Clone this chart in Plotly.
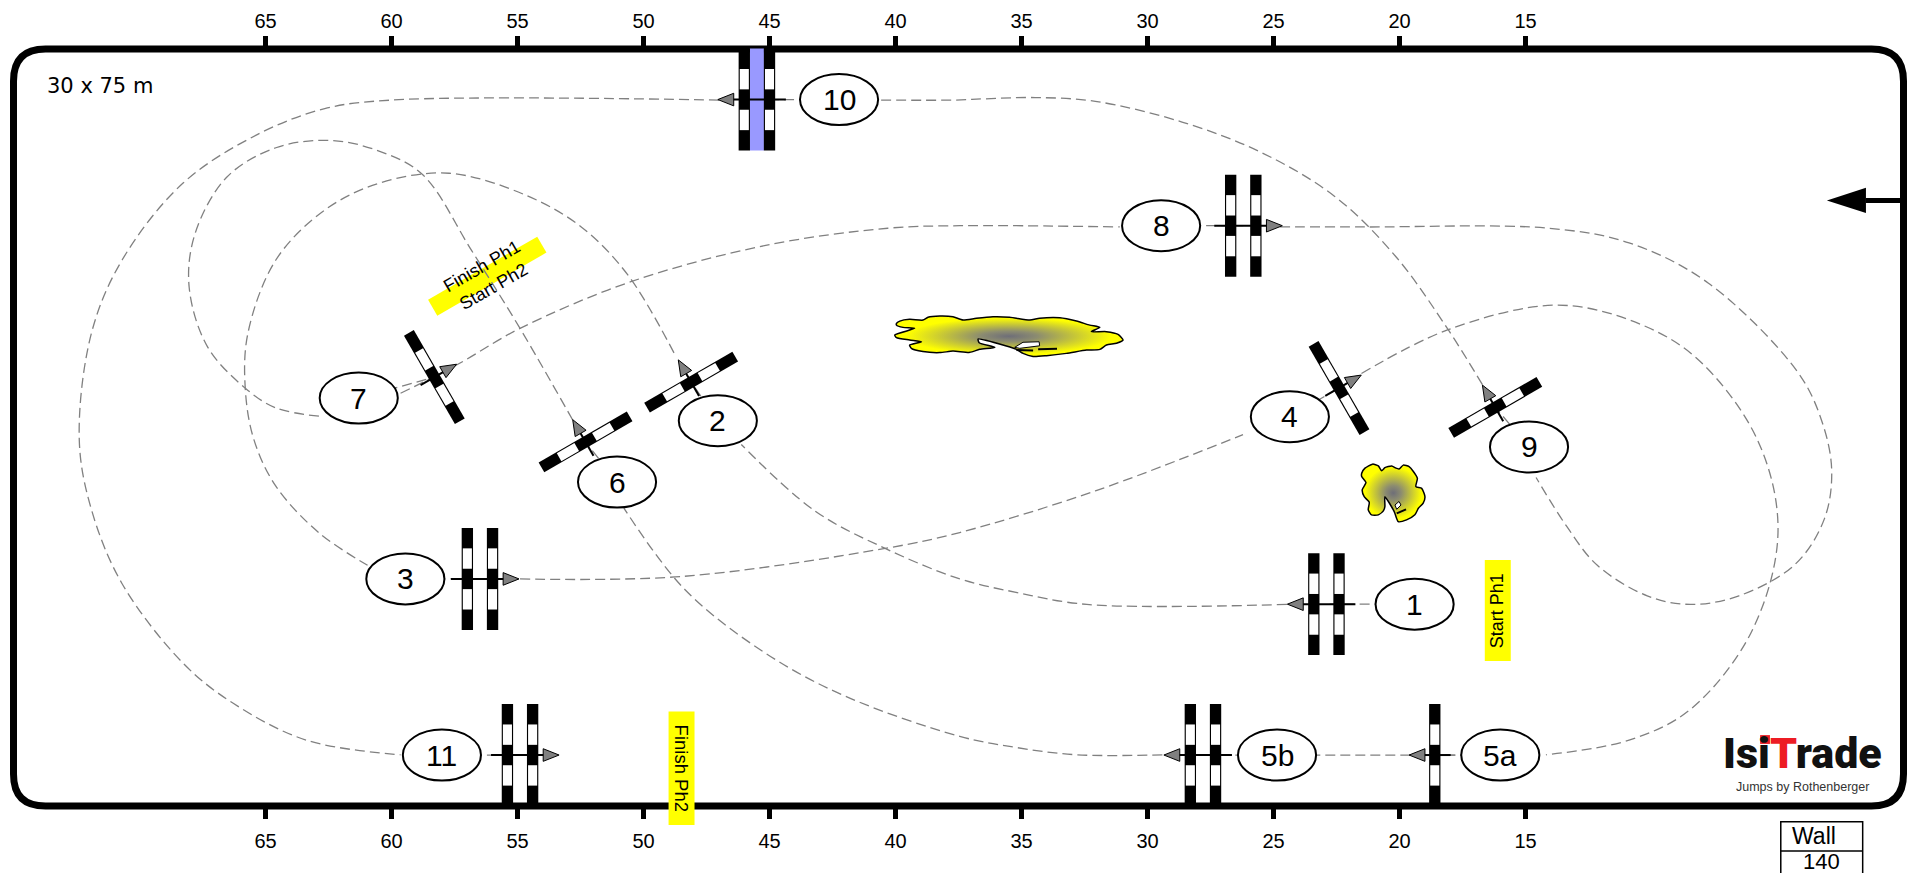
import math
import plotly.graph_objects as go

# ---- Arena (metres) ----
ARENA_W = 75
ARENA_H = 30
CORNER = 1.27
ARENA_LABEL = "30 x 75 m"
TICK_M = [65, 60, 55, 50, 45, 40, 35, 30, 25, 20, 15]

# ---- Jumps ----
JUMP_NAMES = ["1", "2", "3", "4", "5a", "5b", "6", "7", "8", "9", "10", "11"]
JUMP_X = [22.9, 48.11, 56.49, 22.4, 18.6, 27.8, 52.3, 58.3, 26.2, 16.2, 45.5, 54.9]
JUMP_Y = [8.0, 16.8, 9.0, 16.57, 2.02, 2.02, 14.43, 17.0, 23.0, 15.8, 28.0, 2.02]
JUMP_HEADING = [180, 120, 0, 30, 180, 180, 120, 30, 0, 120, 180, 0]
JUMP_POLES = [2, 1, 2, 1, 1, 2, 1, 1, 2, 1, 2, 2]
JUMP_WATER = [0, 0, 0, 0, 0, 0, 0, 0, 0, 0, 1, 0]
LABEL_X = [19.4, 47.05, 59.45, 24.35, 16.0, 24.86, 51.05, 61.3, 29.46, 14.86, 42.24, 58.0]
LABEL_Y = [8.0, 15.27, 9.0, 15.43, 2.02, 2.02, 12.84, 16.17, 23.0, 14.23, 28.0, 2.02]

# ---- Course line ----
ROUTE_A_X = [24.46, 32.41, 35.22, 37.45, 40.41, 43.22, 46.12]
ROUTE_A_Y = [7.99, 7.99, 8.47, 9.0, 10.21, 11.71, 14.33]
ROUTE_B_X = [48.79, 50.63, 52.47, 54.65, 57.71, 60.47, 62.65, 64.59, 65.7, 65.8, 65.46, 64.59, 62.89, 60.95]
ROUTE_B_Y = [17.96, 21.06, 22.95, 24.2, 25.08, 24.69, 23.62, 21.64, 18.73, 16.51, 14.52, 12.68, 10.84, 9.54]
ROUTE_C_X = [54.9, 48.45, 40.41, 37.45, 32.07, 26.21]
ROUTE_C_Y = [9.0, 9.1, 10.21, 10.84, 12.49, 14.72]
ROUTE_D_X = [21.51, 18.07, 13.85, 10.89, 8.28, 5.8, 4.98, 6.05, 8.47, 10.89, 14.19]
ROUTE_D_Y = [17.14, 18.88, 19.85, 19.27, 17.81, 14.52, 10.84, 6.87, 3.82, 2.61, 2.03]
ROUTE_E_X = [16.0, 29.0]
ROUTE_E_Y = [2.02, 2.02]
ROUTE_F_X = [29.41, 32.8, 35.22, 37.45, 42.01, 45.15, 48.35, 50.78]
ROUTE_F_Y = [2.03, 2.03, 2.32, 2.76, 4.36, 6.05, 8.57, 11.81]
ROUTE_G_X = [52.81, 54.9, 56.83, 58.77, 60.47, 62.41, 64.59, 66.53, 67.79, 68.03, 67.3, 65.8, 64.59, 62.79]
ROUTE_G_Y = [15.3, 18.93, 22.03, 25.03, 25.95, 26.38, 26.09, 24.93, 22.7, 20.57, 18.2, 16.56, 15.78, 15.44]
ROUTE_H_X = [59.64, 57.42, 54.9, 50.53, 45.15, 40.31, 37.45, 31.1]
ROUTE_H_Y = [16.36, 17.48, 18.93, 20.77, 22.22, 22.9, 23.0, 22.95]
ROUTE_I_X = [24.75, 21.36, 14.09, 10.89, 7.74, 4.2, 3.24, 2.85, 3.14, 4.3, 6.53, 8.47, 10.17, 12.15, 13.37, 14.58]
ROUTE_I_Y = [22.95, 22.95, 22.9, 22.32, 20.72, 17.2, 15.25, 13.31, 11.38, 9.58, 8.33, 7.99, 8.33, 9.54, 11.09, 13.02]
ROUTE_J_X = [16.71, 18.07, 20.15, 22.57, 25.48, 28.63, 32.07, 34.45, 36.43, 37.65, 40.65]
ROUTE_J_Y = [16.7, 18.88, 21.78, 24.16, 25.9, 27.11, 27.93, 28.08, 28.03, 27.98, 27.98]
ROUTE_K_X = [47.0, 59.98, 62.65, 65.31, 68.27, 70.69, 71.91, 72.39, 71.91, 70.69, 68.27, 66.28, 63.38, 59.64]
ROUTE_K_Y = [27.98, 27.98, 27.64, 26.62, 24.69, 21.64, 18.73, 14.52, 11.76, 8.81, 5.66, 4.07, 2.61, 2.03]
ROUTES = [(ROUTE_A_X, ROUTE_A_Y), (ROUTE_B_X, ROUTE_B_Y), (ROUTE_C_X, ROUTE_C_Y), (ROUTE_D_X, ROUTE_D_Y),
          (ROUTE_E_X, ROUTE_E_Y), (ROUTE_F_X, ROUTE_F_Y), (ROUTE_G_X, ROUTE_G_Y), (ROUTE_H_X, ROUTE_H_Y),
          (ROUTE_I_X, ROUTE_I_Y), (ROUTE_J_X, ROUTE_J_Y), (ROUTE_K_X, ROUTE_K_Y)]

# ---- Shrubs ----
BUSH1_X = [39.96, 39.83, 39.44, 38.91, 38.71, 38.24, 37.72, 37.32, 36.79, 36.13, 35.47, 34.67, 34.28, 33.48, 32.82, 32.29,
           31.89, 32.23, 31.63, 31.17, 30.97, 31.23, 31.63, 31.89, 32.42, 33.22, 34.01, 34.54, 34.94, 35.2, 35.6, 36.72,
           36.68, 36.06, 36.66, 37.05, 37.72, 38.24, 38.91, 39.37, 39.44, 38.97, 39.44, 39.96, 40.03, 39.24, 39.7, 39.96, 39.96]
BUSH1_Y = [19.13, 19.22, 19.29, 19.26, 19.37, 19.42, 19.39, 19.26, 19.33, 19.39, 19.37, 19.26, 19.33, 19.35, 19.22, 19.06,
           18.97, 18.8, 18.8, 18.69, 18.47, 18.34, 18.27, 18.1, 18.07, 17.94, 17.85, 17.82, 17.94, 18.1, 18.23, 18.51,
           18.36, 18.18, 18.1, 17.98, 18.03, 17.97, 18.01, 18.14, 18.27, 18.4, 18.47, 18.56, 18.67, 18.93, 18.97, 19.06, 19.13]
BUSH1_GAP_X = [35.27, 34.94, 34.3, 34.28, 35.07, 35.27]
BUSH1_GAP_Y = [18.18, 18.38, 18.4, 18.24, 18.14, 18.18]
BUSH1_MARK_X = [[35.2, 34.54], [34.34, 33.59]]
BUSH1_MARK_Y = [[18.07, 18.05], [18.1, 18.12]]
BUSH2_X = [21.5, 21.37, 21.07, 20.84, 20.71, 20.58, 20.31, 20.14, 20.02, 19.85, 19.62, 19.45, 19.29, 19.35, 19.12, 18.99,
           19.06, 19.25, 19.39, 19.72, 20.05, 20.21, 20.58, 20.58, 20.64, 20.84, 21.11, 21.24, 21.2, 21.4, 21.48, 21.33, 21.5, 21.5]
BUSH2_Y = [13.19, 13.39, 13.55, 13.48, 13.29, 13.41, 13.48, 13.39, 13.36, 13.51, 13.45, 13.26, 12.99, 12.66, 12.59, 12.26,
           12.0, 11.8, 11.54, 11.34, 11.27, 11.67, 12.26, 11.87, 11.7, 11.54, 11.54, 11.74, 12.04, 12.26, 12.53, 12.82, 13.06, 13.19]
BUSH2_GAP_X = [20.18, 20.02, 19.94, 20.11, 20.18]
BUSH2_GAP_Y = [11.93, 12.07, 11.93, 11.76, 11.93]
BUSH2_MARK_X = [[20.11, 19.74]]
BUSH2_MARK_Y = [[11.6, 11.76]]

# ---- Signs ----
SIGN_TEXT = ["Start Ph1", "Finish Ph2", "Finish Ph1<br>Start Ph2"]
SIGN_X = [16.1, 48.49, 56.2]
SIGN_Y = [7.75, 1.5, 21.0]
SIGN_ANGLE = [90, 90, 30]
SIGN_LEN = [4.0, 4.5, 5.0]
SIGN_WID = [1.03, 1.03, 0.73]
SIGN_TEXTANGLE = [-90, 90, -30]
SIGN_FONT = [18, 18.5, 18]

# ---- Style ----
PX_PER_M_X = 25.2
PX_PER_M_Y = 25.23
W, H = 1915, 873
X_RIGHT_PX, Y_BOTTOM_PX = 1903.5, 806.0
X_RANGE = [X_RIGHT_PX / PX_PER_M_X, (X_RIGHT_PX - W) / PX_PER_M_X]
Y_RANGE = [(Y_BOTTOM_PX - H) / PX_PER_M_Y, Y_BOTTOM_PX / PX_PER_M_Y]
FONT = "Liberation Sans"


def pt(cx, cy, along, across, heading):
    h = math.radians(heading)
    ux, uy = math.cos(h), math.sin(h)
    vx, vy = -uy, ux
    return (cx - (along * ux + across * vx), cy + along * uy + across * vy)


def poly(points):
    return "M" + " L".join(f"{x:.3f},{y:.3f}" for x, y in points) + " Z"


def rect(cx, cy, a0, a1, c0, c1, heading):
    return poly([pt(cx, cy, a0, c0, heading), pt(cx, cy, a1, c0, heading),
                 pt(cx, cy, a1, c1, heading), pt(cx, cy, a0, c1, heading)])


shapes = []
annotations = []


def add_path(path, fill, line=None, width=0, layer="above"):
    shapes.append(dict(type="path", path=path, xref="x", yref="y", fillcolor=fill, layer=layer,
                       line=dict(color=line or "rgba(0,0,0,0)", width=width)))


r = CORNER
wall = (f"M{r},0 L{ARENA_W - r},0 Q{ARENA_W},0 {ARENA_W},{r} L{ARENA_W},{ARENA_H - r} "
        f"Q{ARENA_W},{ARENA_H} {ARENA_W - r},{ARENA_H} L{r},{ARENA_H} Q0,{ARENA_H} 0,{ARENA_H - r} "
        f"L0,{r} Q0,0 {r},0 Z")
shapes.append(dict(type="path", path=wall, xref="x", yref="y", layer="below",
                   line=dict(color="black", width=7), fillcolor="rgba(0,0,0,0)"))

# signs
for t, sx, sy, a, ln, wd, ta, fs in zip(SIGN_TEXT, SIGN_X, SIGN_Y, SIGN_ANGLE, SIGN_LEN, SIGN_WID, SIGN_TEXTANGLE, SIGN_FONT):
    add_path(rect(sx, sy, -ln / 2, ln / 2, -wd / 2, wd / 2, a), "#ffff00", layer="below")
    annotations.append(dict(x=sx, y=sy, xref="x", yref="y", text=t, showarrow=False, textangle=ta,
                            font=dict(family=FONT, size=fs, color="black")))

# entrance arrow
add_path(poly([(0, 24.1), (1.5, 24.1), (1.5, 23.9), (0, 23.9)]), "black")
add_path(poly([(3.04, 24.0), (1.49, 24.5), (1.49, 23.5)]), "black")

# jumps
POLE_LEN, POLE_W, WHITE_W = 4.04, 0.45, 0.36
SEG = POLE_LEN / 5
for i in range(len(JUMP_NAMES)):
    jx, jy, h = JUMP_X[i], JUMP_Y[i], JUMP_HEADING[i]
    offs = [-0.5, 0.5] if JUMP_POLES[i] == 2 else [0.0]
    if JUMP_WATER[i]:
        add_path(rect(jx, jy, -0.28, 0.28, -POLE_LEN / 2, POLE_LEN / 2, h), "#9999ff")
    for o in offs:
        add_path(rect(jx, jy, o - POLE_W / 2, o + POLE_W / 2, -POLE_LEN / 2, POLE_LEN / 2, h), "black")
        for k in (1, 3):
            c0 = -POLE_LEN / 2 + k * SEG
            add_path(rect(jx, jy, o - WHITE_W / 2, o + WHITE_W / 2, c0, c0 + SEG, h), "white")
    back, tip = (1.15, 1.55) if JUMP_POLES[i] == 2 else (0.63, 1.02)
    add_path(rect(jx, jy, -back, tip - 0.6, -0.04, 0.04, h), "black")
    add_path(poly([pt(jx, jy, tip, 0, h), pt(jx, jy, tip - 0.63, 0.25, h), pt(jx, jy, tip - 0.63, -0.25, h)]),
             "#808080", "black", 1)
    lx, ly = LABEL_X[i], LABEL_Y[i]
    shapes.append(dict(type="circle", xref="x", yref="y", x0=lx - 1.55, x1=lx + 1.55, y0=ly - 1.01, y1=ly + 1.01,
                       fillcolor="white", line=dict(color="black", width=2), layer="above"))
    annotations.append(dict(x=lx, y=ly, xref="x", yref="y", text=JUMP_NAMES[i], showarrow=False,
                            font=dict(family=FONT, size=30, color="black")))

# table
shapes.append(dict(type="rect", xref="x", yref="y", x0=4.87, x1=1.62, y0=-3.2, y1=-0.62,
                   line=dict(color="black", width=1.5), layer="above"))
shapes.append(dict(type="line", xref="x", yref="y", x0=4.87, x1=1.62, y0=-1.78, y1=-1.78,
                   line=dict(color="black", width=1.5), layer="above"))
annotations.append(dict(x=3.56, y=-1.19, xref="x", yref="y", text="Wall", showarrow=False,
                        font=dict(family=FONT, size=23, color="black")))
annotations.append(dict(x=3.24, y=-2.18, xref="x", yref="y", text="140", showarrow=False,
                        font=dict(family=FONT, size=22, color="black")))

# logo
annotations.append(dict(x=3.99, y=2.1, xref="x", yref="y", showarrow=False,
                        text='Isi<span style="color:#ed1c24">T</span>rade',
                        font=dict(family="Roboto", size=43, color="#111111", weight=900)))
annotations.append(dict(x=3.99, y=0.76, xref="x", yref="y", showarrow=False, text="Jumps by Rothenberger",
                        font=dict(family=FONT, size=12.5, color="#333333")))
shapes.append(dict(type="rect", xref="x", yref="y", x0=5.69, x1=5.30, y0=2.46, y1=2.81,
                   fillcolor="#ed1c24", line=dict(width=0), layer="above"))

# arena label
annotations.append(dict(x=73.75, y=28.54, xref="x", yref="y", text=ARENA_LABEL, showarrow=False, xanchor="left",
                        font=dict(family="DejaVu Sans", size=21, color="black")))

fig = go.Figure()
for rx, ry in ROUTES:
    fig.add_trace(go.Scatter(x=rx, y=ry, mode="lines", hoverinfo="skip", showlegend=False,
                             line=dict(color="#808080", width=1.3, dash="10px,5px", shape="spline")))
for i in range(len(JUMP_NAMES)):
    fig.add_trace(go.Scatter(x=[LABEL_X[i], JUMP_X[i]], y=[LABEL_Y[i], JUMP_Y[i]], mode="lines", hoverinfo="skip",
                             showlegend=False, line=dict(color="#808080", width=1.3, dash="10px,5px")))

GRADIENT = dict(type="radial", colorscale=[[0, "#6e6e78"], [0.25, "#8c8c70"], [0.9, "#ffff00"], [1, "#ffff00"]])
for bx, by, gx, gy, mx, my in [(BUSH1_X, BUSH1_Y, BUSH1_GAP_X, BUSH1_GAP_Y, BUSH1_MARK_X, BUSH1_MARK_Y),
                               (BUSH2_X, BUSH2_Y, BUSH2_GAP_X, BUSH2_GAP_Y, BUSH2_MARK_X, BUSH2_MARK_Y)]:
    fig.add_trace(go.Scatter(x=bx, y=by, mode="lines", fill="toself", fillgradient=GRADIENT, hoverinfo="skip",
                             showlegend=False, line=dict(color="black", width=1.5, shape="spline", smoothing=0.6)))
    fig.add_trace(go.Scatter(x=gx, y=gy, mode="lines", fill="toself", fillcolor="white", hoverinfo="skip",
                             showlegend=False, line=dict(color="black", width=1)))
    for mxx, myy in zip(mx, my):
        fig.add_trace(go.Scatter(x=mxx, y=myy, mode="lines", hoverinfo="skip", showlegend=False,
                                 line=dict(color="black", width=2)))

# invisible trace that keeps the upper metre axis alive
fig.add_trace(go.Scatter(x=TICK_M, y=[ARENA_H] * len(TICK_M), xaxis="x2", mode="none", hoverinfo="skip", showlegend=False))

axis_common = dict(range=X_RANGE, tickmode="array", tickvals=TICK_M, ticktext=[str(t) for t in TICK_M],
                   showgrid=False, zeroline=False, showline=False, ticks="outside", tickwidth=5, tickcolor="black",
                   tickfont=dict(family=FONT, size=20, color="black"), fixedrange=True)
fig.update_layout(
    width=W, height=H, margin=dict(l=0, r=0, t=0, b=0, pad=0),
    paper_bgcolor="white", plot_bgcolor="white", showlegend=False,
    xaxis=dict(**axis_common, domain=[0, 1], anchor="free", position=(H - Y_BOTTOM_PX) / H, side="bottom", ticklen=12,
               ticklabelstandoff=5),
    xaxis2=dict(**axis_common, overlaying="x", anchor="free", position=(H - 49.5) / H, side="top", ticklen=14),
    yaxis=dict(range=Y_RANGE, visible=False, domain=[0, 1], fixedrange=True),
    shapes=shapes, annotations=annotations,
)
fig.write_html("out.html", post_script="document.body.style.margin='0';document.body.style.overflow='hidden';",
               config=dict(displayModeBar=False))
